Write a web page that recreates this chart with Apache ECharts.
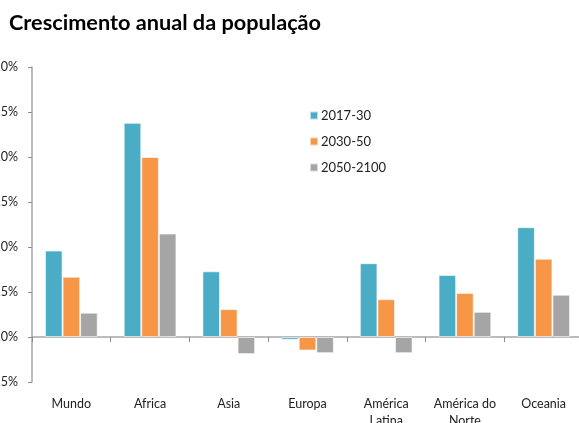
<!DOCTYPE html>
<html>
<head>
<meta charset="utf-8">
<script src="https://cdn.jsdelivr.net/npm/echarts@6/dist/echarts.min.js"></script>
<style>
  html, body { margin: 0; padding: 0; background: #fff; }
  #chart { width: 579px; height: 423px; }
</style>
</head>
<body>
<div id="chart"></div>
<script>
// Regiões e taxas de crescimento anual (%)
const regioes = ['Mundo', 'Africa', 'Asia', 'Europa', 'América\nLatina', 'América do\nNorte', 'Oceania'];
const serieNomes = ['2017-30', '2030-50', '2050-2100'];
const cresc2017_30 = [0.96, 2.38, 0.73, -0.03, 0.82, 0.69, 1.22];
const cresc2030_50 = [0.67, 2.00, 0.31, -0.15, 0.42, 0.49, 0.87];
const cresc2050_2100 = [0.27, 1.15, -0.19, -0.18, -0.18, 0.28, 0.47];
const cores = ['#4bacc6', '#f79646', '#a5a5a5'];

const chart = echarts.init(document.getElementById('chart'));
const fonte = 'Lato, "Open Sans", sans-serif';

function barra(nome, dados, cor) {
  return {
    name: nome,
    type: 'bar',
    xAxisIndex: 0,
    data: dados,
    barGap: '0%',
    barCategoryGap: '33%',
    itemStyle: { color: cor, borderColor: 'rgba(255,255,255,0.6)', borderWidth: 1 }
  };
}

chart.setOption({
  animation: false,
  textStyle: { fontFamily: fonte },
  title: {
    text: 'Crescimento anual da população',
    left: 4,
    top: 7,
    textStyle: { fontFamily: fonte, fontSize: 21.7, fontWeight: 'bold', color: '#000' }
  },
  legend: {
    orient: 'vertical',
    left: 304,
    top: 104,
    itemWidth: 8,
    itemHeight: 8,
    itemGap: 13,
    icon: 'rect',
    data: serieNomes,
    textStyle: { fontFamily: fonte, fontSize: 13, color: '#222', padding: [0, 0, 0, -2] }
  },
  grid: {
    left: 32, right: -4, top: 67, bottom: 41,
    containLabel: false,
    outerBoundsMode: 'none'
  },
  xAxis: [
    {
      type: 'category',
      data: regioes,
      axisLine: { onZero: true, lineStyle: { color: '#a6a6a6', width: 1.5 } },
      axisTick: { show: true, inside: false, length: 5, lineStyle: { color: '#8c8c8c' } },
      axisLabel: { show: false }
    },
    {
      type: 'category',
      data: regioes,
      position: 'bottom',
      axisLine: { show: false, onZero: false },
      axisTick: { show: false },
      axisLabel: {
        margin: 13,
        fontFamily: fonte,
        fontSize: 12.5,
        color: '#222',
        lineHeight: 17,
        interval: 0
      }
    }
  ],
  yAxis: {
    type: 'value',
    min: -0.5,
    max: 3.0,
    interval: 0.5,
    splitLine: { show: false },
    axisLine: { show: true, lineStyle: { color: '#a6a6a6', width: 1.5 } },
    axisTick: { show: true, length: 4, lineStyle: { color: '#8c8c8c' } },
    axisLabel: {
      margin: 14,
      fontFamily: fonte,
      fontSize: 12.5,
      color: '#222',
      formatter: v => v.toFixed(1).replace('.', ',') + '%'
    }
  },
  series: [
    barra(serieNomes[0], cresc2017_30, cores[0]),
    barra(serieNomes[1], cresc2030_50, cores[1]),
    barra(serieNomes[2], cresc2050_2100, cores[2])
  ]
});
</script>
</body>
</html>
